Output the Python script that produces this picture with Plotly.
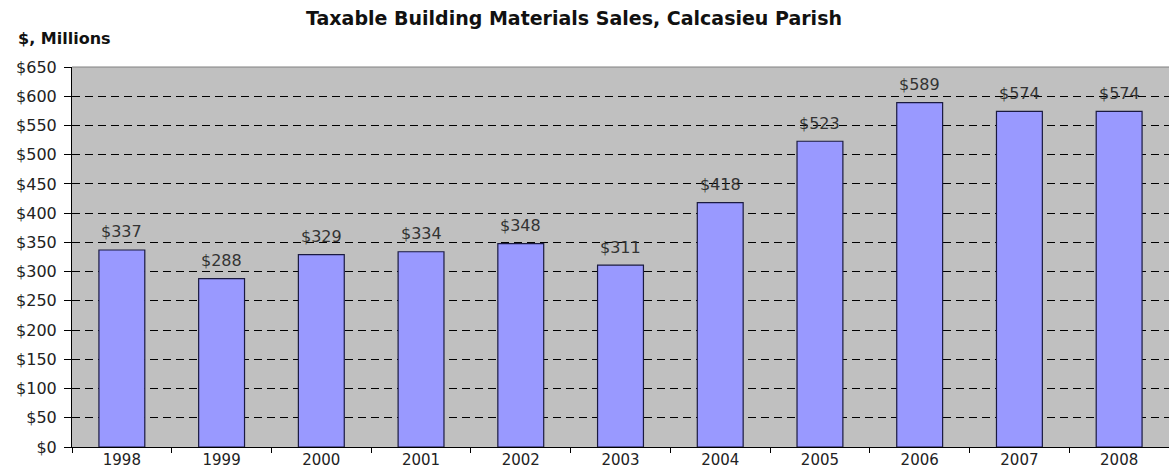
import plotly.graph_objects as go

years = ["1998", "1999", "2000", "2001", "2002", "2003", "2004", "2005", "2006", "2007", "2008"]
sales = [337, 288, 329, 334, 348, 311, 418, 523, 589, 574, 574]
y_ticks = list(range(0, 651, 50))
y_tick_text = [f"${v}" for v in y_ticks]

FONT = "DejaVu Sans, Verdana, sans-serif"

fig = go.Figure()
fig.add_trace(go.Bar(
    x=years,
    y=sales,
    width=0.46,
    marker=dict(color="#9999FF", line=dict(color="#1a1a40", width=1.2)),
    hovertemplate="%{x}: $%{y}<extra></extra>",
))

# value labels above each bar (x given as category index)
for i, v in enumerate(sales):
    fig.add_annotation(
        x=i, y=v, xref="x", yref="y", text=f"${v}", showarrow=False,
        yanchor="middle", yshift=18,
        font=dict(family=FONT, size=16, color="#333333"),
    )

fig.add_annotation(
    xref="paper", yref="paper", x=0.458, y=1, yshift=49, xanchor="center", yanchor="middle",
    text="<b>Taxable Building Materials Sales, Calcasieu Parish</b>", showarrow=False,
    font=dict(family=FONT, size=19, color="#111111"),
)
fig.add_annotation(
    xref="paper", yref="paper", x=0, xshift=-56, y=1, yshift=29, xanchor="left", yanchor="middle",
    text="<b>$, Millions</b>", showarrow=False,
    font=dict(family=FONT, size=16, color="#111111"),
)

fig.update_layout(
    width=1169, height=470,
    margin=dict(l=72, r=0, t=67, b=23),
    paper_bgcolor="white",
    plot_bgcolor="#C0C0C0",
    showlegend=False,
    font=dict(family=FONT, size=16, color="#222222"),
    xaxis=dict(
        type="category", categoryorder="array", categoryarray=years,
        showgrid=False, ticks="outside", tickson="boundaries", ticklen=5,
        tickcolor="black", showline=True, automargin=False,
        linecolor="black", linewidth=1, tickfont=dict(size=15, color="#222222"),
        range=[-0.5, len(years) - 0.5], zeroline=False, ticklabelstandoff=-1,
    ),
    yaxis=dict(
        range=[0, 650], tickvals=y_ticks, ticktext=y_tick_text,
        showgrid=True, gridcolor="black", griddash="8px,5px", gridwidth=1,
        ticks="outside", ticklen=7, tickcolor="black", automargin=False,
        showline=True, linecolor="black", linewidth=1,
        tickfont=dict(size=16, color="#222222"), zeroline=False,
        ticklabelstandoff=4,
    ),
    shapes=[dict(type="line", xref="paper", yref="paper", x0=0, x1=1, y0=1, y1=1,
                 line=dict(color="#808080", width=1))],
)

fig.write_html("out.html")
